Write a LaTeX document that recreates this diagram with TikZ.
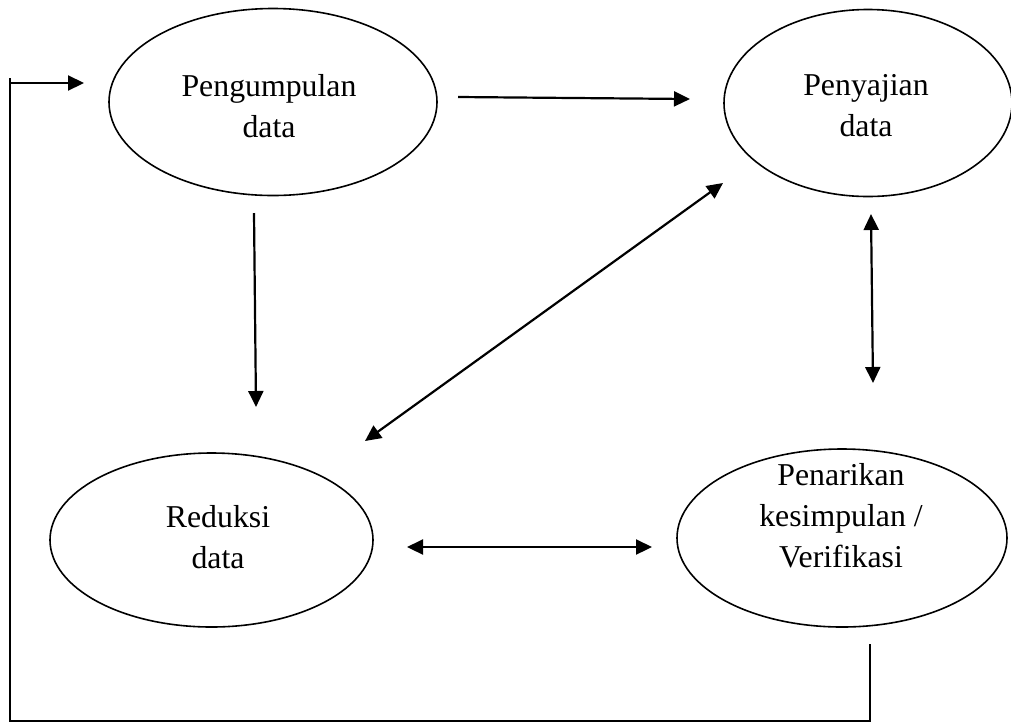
\documentclass[tikz,border=0pt]{standalone}
\usepackage{fontspec}
\setmainfont{Liberation Serif}
\usetikzlibrary{arrows.meta,shapes.geometric}
\begin{document}
\begin{tikzpicture}[x=1pt,y=-1pt,
  oval/.style={draw,ellipse,line width=1.6pt,inner sep=0pt},
  txt/.style={align=center,inner sep=0pt,font=\fontsize{31.8}{41}\selectfont},
  conn/.style={line width=2.2pt,-{Triangle[length=16pt,width=15pt]}},
  biconn/.style={line width=2.2pt,{Triangle[length=16pt,width=15pt]}-{Triangle[length=16pt,width=15pt]}},
  loopline/.style={line width=2.5pt}]
\useasboundingbox (0,0) rectangle (1011,724);
% ellipses
\node[oval,minimum width=328pt,minimum height=187pt] (e1) at (273,102) {};
\node[oval,minimum width=288pt,minimum height=187pt] (e2) at (868,103) {};
\node[oval,minimum width=323pt,minimum height=174pt] (e3) at (211.5,540) {};
\node[oval,minimum width=330pt,minimum height=178pt] (e4) at (842,538) {};
% texts
\node[txt] (t1) at (269,106) {Pengumpulan\\data};
\node[txt] (t2) at (866,106) {Penyajian\\data};
\node[txt] (t3) at (218,537) {Reduksi\\data};
\node[txt] (t4) at (841,516) {Penarikan\\kesimpulan /\\Verifikasi};
% connector end points
\coordinate (a1s) at (458,97);   \coordinate (a1e) at (690,99);
\coordinate (a2s) at (254,213);  \coordinate (a2e) at (256,407);
\coordinate (a3s) at (365,441);  \coordinate (a3e) at (723,183);
\coordinate (a4s) at (871,214);  \coordinate (a4e) at (873,383);
\coordinate (a5s) at (407,547);  \coordinate (a5e) at (652,547);
\coordinate (f1) at (870,644);
\coordinate (f2) at (870,721);
\coordinate (f3) at (10,721);
\coordinate (f4) at (10,78);
\coordinate (f5) at (10,83);
\coordinate (f6) at (84,83);
% connectors
\draw[conn] (a1s) -- (a1e);
\draw[conn] (a2s) -- (a2e);
\draw[biconn] (a3s) -- (a3e);
\draw[biconn] (a4s) -- (a4e);
\draw[biconn] (a5s) -- (a5e);
\draw[loopline] (f1) -- (f2) -- (f3) -- (f4);
\draw[conn] (f5) -- (f6);
\end{tikzpicture}
\end{document}
